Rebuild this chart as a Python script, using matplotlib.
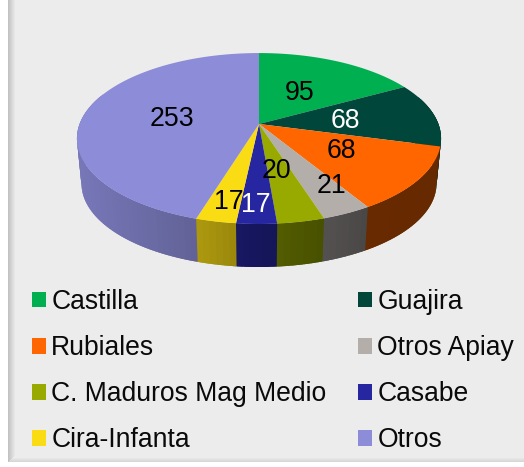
import numpy as np
import matplotlib
matplotlib.use("Agg")
import matplotlib.pyplot as plt
from matplotlib.patches import Polygon, Rectangle

categories = ["Castilla", "Guajira", "Rubiales", "Otros Apiay",
              "C. Maduros Mag Medio", "Casabe", "Cira-Infanta", "Otros"]
values = [95, 68, 68, 21, 20, 17, 17, 253]
colors = ["#00b050", "#00463a", "#ff6600", "#b3aeaa",
          "#98aa00", "#2626a0", "#f9dc14", "#8c8cd9"]
label_colors = ["black", "white", "black", "black", "black", "white", "black", "black"]
label_pos = [(300, 90), (345, 118), (341, 148), (331, 183),
             (276, 168), (256, 202), (229, 199), (172, 116)]

plt.rcParams["font.family"] = ["Liberation Sans", "DejaVu Sans"]
W, H = 524, 467
fig = plt.figure(figsize=(W / 100, H / 100), dpi=100, facecolor="white")
ax = fig.add_axes([0, 0, 1, 1])
ax.set_xlim(0, W)
ax.set_ylim(H, 0)
ax.axis("off")

BG = np.array([236, 236, 236]) / 255
# panel with soft shadowed edges
ax.add_patch(Rectangle((8, -1), W, 463, fc=BG, ec="none", zorder=0))
for i in range(7):
    t = i / 7
    c = np.array([.76, .76, .76]) * (1 - t) + BG * t
    ax.add_patch(Rectangle((8 + i, -1), 1.1, 463 - i, fc=c, ec="none", zorder=0.2))
for i in range(4):
    t = i / 4
    c = np.array([.84, .84, .84]) * (1 - t) + BG * t
    ax.add_patch(Rectangle((8 + i, 461 - i), W, 1.1, fc=c, ec="none", zorder=0.1))

# perspective disc
cx, cy = 259, 124
k, A, B = 0.17, 179.4, 83.0
scale_bot, drop = 0.975, 45.5


def proj(theta, r=1.0, bottom=False):
    u, v = r * np.sin(theta), r * np.cos(theta)
    s = scale_bot if bottom else 1.0
    d = drop if bottom else 0.0
    return cx + s * A * u / (1 + k * v), cy + d - s * B * v / (1 + k * v)


shade_x = [80, 195, 235, 276, 324, 368, 440]
shade_f = [.85, .70, .62, .55, .47, .41, .40]

vals = np.array(values, float)
edges = np.concatenate([[0], np.cumsum(vals)]) / vals.sum() * 2 * np.pi

# side wall strips, each overlapping the next so no seams show
z = 2.0
for a0, a1, col in zip(edges[:-1], edges[1:], colors):
    n = max(int((a1 - a0) / 0.03), 2)
    ts = np.linspace(a0, a1, n + 1)
    rgb = np.array(matplotlib.colors.to_rgb(col))
    for t0, t1 in zip(ts[:-1], ts[1:]):
        if np.cos((t0 + t1) / 2) > 0.35:
            continue
        arc = np.linspace(t0, min(t1 + 0.03, a1 + 0.03), 5)
        xt, yt = proj(arc)
        xb, yb = proj(arc, bottom=True)
        pts = list(zip(xt, yt)) + list(zip(xb[::-1], yb[::-1]))
        f = np.interp(proj((t0 + t1) / 2)[0], shade_x, shade_f)
        z += 0.0001
        ax.add_patch(Polygon(pts, closed=True, fc=rgb * f, ec="none", lw=0, zorder=z))

# top slices
for a0, a1, col in zip(edges[:-1], edges[1:], colors):
    ts = np.linspace(a0, a1, max(int((a1 - a0) / 0.01), 4))
    xs, ys = proj(ts)
    pts = [(cx, cy)] + list(zip(xs, ys))
    ax.add_patch(Polygon(pts, closed=True, fc=col, ec="none", lw=0, zorder=3))

# data labels
for v, (x, y), c in zip(values, label_pos, label_colors):
    ax.text(x, y, str(v), color=c, fontsize=19.2, ha="center", va="center_baseline", zorder=5)

# legend (filled column-wise, so left column first)
order = [0, 2, 4, 6, 1, 3, 5, 7]
handles = [Rectangle((0, 0), 1, 1, fc=colors[i], ec="none") for i in order]
labels = [categories[i] for i in order]
ax.legend(handles, labels, ncol=2, frameon=False, loc="upper left",
          bbox_to_anchor=(32 / W, 1 - 289 / H), borderpad=0, borderaxespad=0,
          fontsize=19.1, handlelength=0.53, handleheight=0.53, handletextpad=0.2,
          labelspacing=0.76, columnspacing=1.18, labelcolor="#0a0a0a")

fig.savefig("out.png", dpi=100, facecolor="white")
